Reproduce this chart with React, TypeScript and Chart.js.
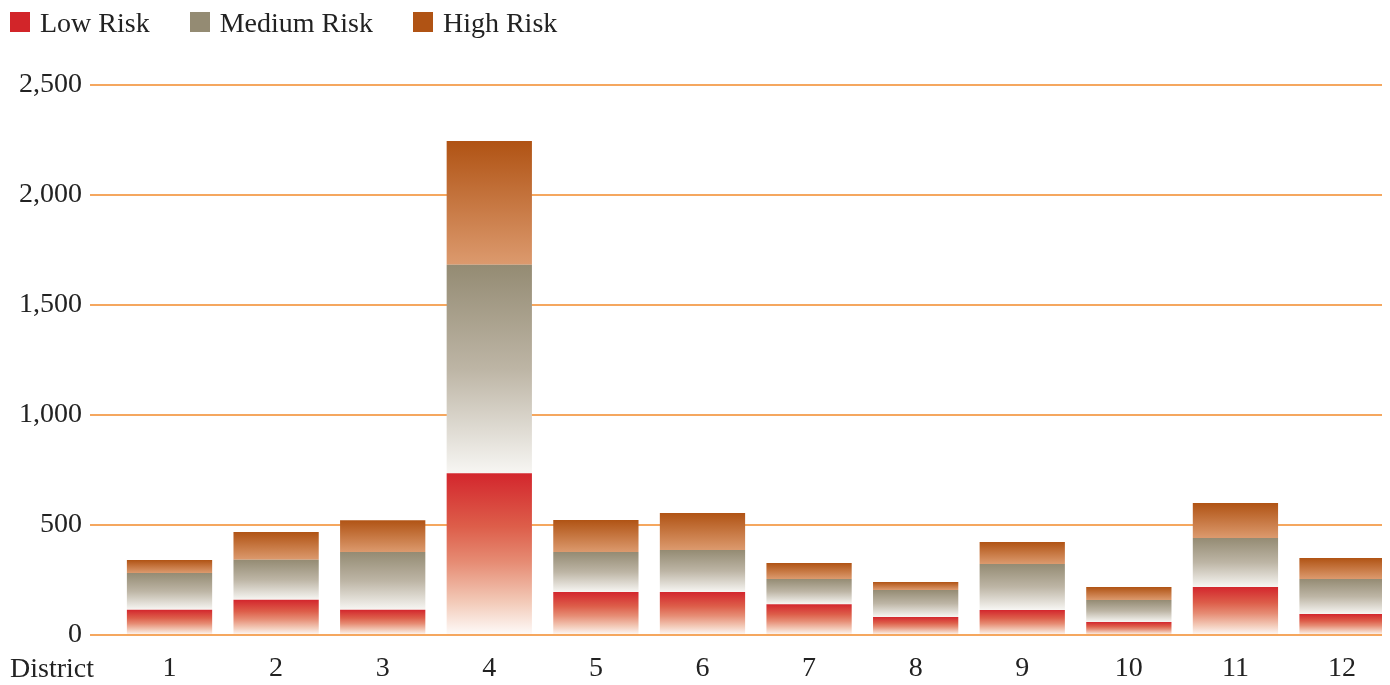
import React, { useEffect, useRef } from "react";
import { Chart, registerables } from "chart.js";

Chart.register(...registerables);

const categories = ["1", "2", "3", "4", "5", "6", "7", "8", "9", "10", "11", "12"];
const lowRisk = [115, 160, 115, 735, 195, 195, 140, 82, 114, 59, 218, 95];
const mediumRisk = [167, 182, 262, 948, 182, 191, 115, 123, 209, 100, 223, 160];
const highRisk = [59, 126, 145, 562, 146, 169, 72, 36, 100, 59, 159, 95];
const seriesNames = ["Low Risk", "Medium Risk", "High Risk"];
const yTicks = [0, 500, 1000, 1500, 2000, 2500];
const axisTitle = "District";

const FONT = "'Liberation Serif', 'DejaVu Serif', serif";
const TEXT = "#222222";
const solidColors = ["#d22529", "#948b73", "#b05314"];
const gradientStops: [number, string][][] = [
  [
    [0, "#d3262d"],
    [0.33, "#dd5e4a"],
    [0.55, "#e68c74"],
    [0.8, "#f3cbb9"],
    [1, "#fefbfa"],
  ],
  [
    [0, "#948b73"],
    [0.5, "#bdb5a5"],
    [1, "#f7f6f3"],
  ],
  [
    [0, "#b05314"],
    [1, "#dc9a6e"],
  ],
];

export default function App() {
  const canvasRef = useRef<HTMLCanvasElement | null>(null);

  useEffect(() => {
    document.documentElement.style.overflow = "hidden";
    const canvas = canvasRef.current;
    if (!canvas) return;
    const series = [lowRisk, mediumRisk, highRisk];

    const makeBg = (d: number) => (ctx: any) => {
      const chart = ctx.chart;
      const scales = chart.scales;
      if (ctx.type !== "data" || !scales || !scales.y || !chart.chartArea) return solidColors[d];
      const i = ctx.dataIndex;
      let base = 0;
      for (let k = 0; k < d; k++) base += series[k][i];
      const top = base + series[d][i];
      const y0 = scales.y.getPixelForValue(base);
      const y1 = scales.y.getPixelForValue(top);
      if (!isFinite(y0) || !isFinite(y1) || y0 === y1) return solidColors[d];
      const g = chart.ctx.createLinearGradient(0, y1, 0, y0);
      gradientStops[d].forEach(([o, c]) => g.addColorStop(o, c));
      return g;
    };

    const districtLabel = {
      id: "districtLabel",
      afterDraw(chart: any) {
        const x = chart.scales.x;
        const c = chart.ctx;
        c.save();
        c.font = `28px ${FONT}`;
        c.fillStyle = TEXT;
        c.textAlign = "left";
        c.textBaseline = "alphabetic";
        c.fillText(axisTitle, 2, x.top + 42);
        c.restore();
      },
    };

    const chart = new Chart(canvas, {
      type: "bar",
      data: {
        datasets: series.map((s, d) => ({
          label: seriesNames[d],
          data: s.map((v, i) => ({ x: i + 1, y: v })),
          backgroundColor: makeBg(d),
          borderWidth: 0,
          categoryPercentage: 1,
          barPercentage: 0.8,
        })),
      },
      options: {
        animation: false,
        responsive: false,
        devicePixelRatio: 1,
        layout: { padding: { top: 77, left: 0, right: 0, bottom: 0 } },
        plugins: {
          legend: { display: false },
          tooltip: { enabled: false },
        },
        scales: {
          x: {
            type: "linear",
            stacked: true,
            offset: false,
            min: 0.254,
            max: 12.375,
            grid: { display: false },
            border: { display: false },
            afterBuildTicks: (s: any) => {
              s.ticks = categories.map((_, i) => ({ value: i + 1 }));
            },
            afterFit: (s: any) => {
              s.height = 50;
            },
            ticks: {
              autoSkip: false,
              maxRotation: 0,
              padding: 9,
              color: TEXT,
              font: { family: FONT, size: 28 },
              callback: (v: any) => categories[Math.round(Number(v)) - 1] ?? "",
            },
          },
          y: {
            stacked: true,
            min: 0,
            max: 2500,
            z: 1,
            afterBuildTicks: (s: any) => {
              s.ticks = yTicks.map((v) => ({ value: v }));
            },
            afterFit: (s: any) => {
              s.width = 82;
            },
            grid: {
              color: "rgba(244,162,86,0.95)",
              lineWidth: 2,
              drawTicks: false,
            },
            border: { display: false },
            ticks: {
              padding: 8,
              color: TEXT,
              font: { family: FONT, size: 28 },
              callback: (v: any) => Number(v).toLocaleString("en-US"),
            },
          },
        },
      },
      plugins: [districtLabel],
    });
    return () => chart.destroy();
  }, []);

  return (
    <div style={{ position: "relative", width: 1374, height: 677 }}>
      <canvas ref={canvasRef} width={1374} height={677} style={{ display: "block" }} />
      <div
        style={{
          position: "absolute",
          left: 2,
          top: 0,
          display: "flex",
          fontFamily: FONT,
          fontSize: 28,
          lineHeight: "30px",
          color: TEXT,
          whiteSpace: "nowrap",
        }}
      >
        {seriesNames.map((n, d) => (
          <div key={n} style={{ marginRight: 40 }}>
            <span
              style={{
                display: "inline-block",
                width: 20,
                height: 20,
                background: solidColors[d],
                marginRight: 10,
              }}
            />
            <span>{n}</span>
          </div>
        ))}
      </div>
    </div>
  );
}
